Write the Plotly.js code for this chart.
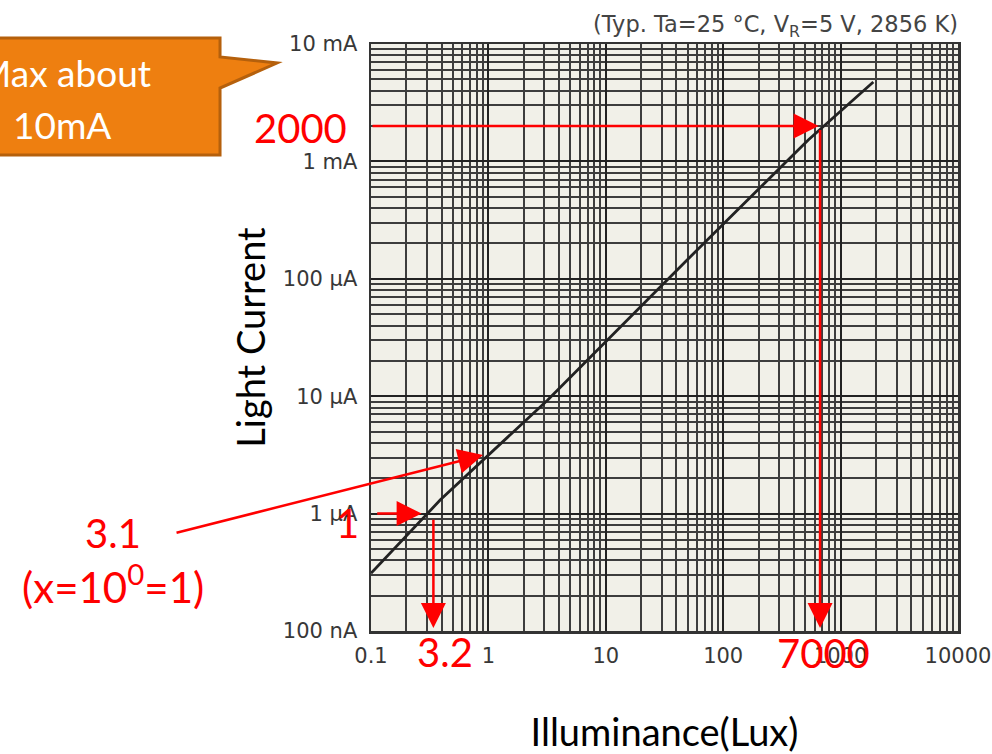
<!DOCTYPE html>
<html>
<head>
<meta charset="utf-8">
<script src="https://cdn.plot.ly/plotly-3.0.1.min.js"></script>
<style>html,body{margin:0;padding:0;background:#fff;}#chart{width:992px;height:754px;}</style>
</head>
<body>
<div id="chart"></div>
<script>
// ---- data ----
const illuminanceLux = [0.1, 0.39, 3.2, 49, 530, 1900];
const lightCurrentA  = [0.31e-6, 1.31e-6, 9.3e-6, 144e-6, 1.52e-3, 4.74e-3];

const xTickVals = [0.1, 1, 10, 100, 1000, 10000];
const xTickText = ['0.1', '1', '10', '100', '1000', '10000'];
const yTickVals = [1e-7, 1e-6, 1e-5, 1e-4, 1e-3, 1e-2];
const yTickText = ['100 nA', '1 µA', '10 µA', '100 µA', '1 mA', '10 mA'];

const chartNote = '(Typ. Ta=25 °C, V<sub>R</sub>=5 V, 2856 K)';
const xTitle = 'Illuminance(Lux)';
const yTitle = 'Light Current';

// annotation readings (lux, ampere)
const readHigh = {lux: 650, current: 2e-3, label: '2000', xLabel: '7000'};
const readLow  = {lux: 0.34, luxArrow: 0.27, current: 1e-6, label: '1', xLabel: '3.2'};
const readMid  = {lux: 0.9, current: 3.15e-6, label: '3.1', note: '(x=10<sup>0</sup>=1)'};
const calloutLines = ['Max about', '10mA'];

// minor grid values (2..9 in each decade)
function minorVals(lo, hi) {
  const v = [];
  for (let e = lo; e < hi; e++) for (let k = 2; k <= 9; k++) v.push(k * Math.pow(10, e));
  return v;
}
const L = Math.log10;
const red = '#FF0000';
const gridMajor = '#222222', gridMinor = '#3d3d3d';
const tickFont = {family: 'DejaVu Sans', size: 21, color: '#383838'};
const titleFont = {family: 'Lato', size: 38, color: '#000'};

const trace = {
  x: illuminanceLux, y: lightCurrentA, type: 'scatter', mode: 'lines',
  line: {color: '#222', width: 2.8}, hoverinfo: 'skip', showlegend: false
};

function arrow(x, y, ax, ay, extra) {
  return Object.assign({
    x: x, y: y, ax: ax, ay: ay, xref: 'x', yref: 'y', axref: 'x', ayref: 'y',
    text: '', showarrow: true, arrowhead: 2, arrowsize: 2.0, arrowwidth: 2.5,
    arrowcolor: red, standoff: 0, startstandoff: 0
  }, extra || {});
}
function label(text, px, py, size, color, extra) {
  return Object.assign({
    text: text, xref: 'paper', yref: 'paper', x: (px - 371) / 587, y: (631 - py) / 587,
    xanchor: 'center', yanchor: 'middle', showarrow: false,
    font: {family: 'Lato', size: size, color: color}
  }, extra || {});
}

const annotations = [
  // 2000 / 7000 reading
  arrow(L(readHigh.lux), L(readHigh.current), -1, L(readHigh.current)),
  arrow(L(readHigh.lux) + 0.012, -6.975, L(readHigh.lux) + 0.012, L(readHigh.current) - 0.02),
  // 1 / 3.2 reading
  arrow(L(readLow.luxArrow), L(readLow.current), -0.96, L(readLow.current)),
  arrow(L(readLow.lux), -6.975, L(readLow.lux), L(readLow.current) - 0.04),
  // 3.1 pointer
  {x: L(readMid.lux), y: L(readMid.current), xref: 'x', yref: 'y', ax: -308, ay: 78,
   text: '', showarrow: true, arrowhead: 2, arrowsize: 2.0, arrowwidth: 2.5, arrowcolor: red, standoff: 0},
  label(readHigh.label, 300, 128, 40, red),
  label(readHigh.xLabel, 823, 653, 40, red),
  label(readLow.xLabel, 445, 652, 40, red),
  label(readLow.label, 347, 523, 40, red),
  label(readMid.label, 113, 533, 40, red),
  label(readMid.note, 113, 584, 42, red),
  label(calloutLines[0], 153, 72, 37, '#ffffff', {xanchor: 'right'}),
  label(calloutLines[1], 62, 124, 37, '#ffffff')
];

function px(xp) { return ((xp - 371) / 587).toFixed(4); }
function py(yp) { return ((631 - yp) / 587).toFixed(4); }
const calloutPath = 'M ' + px(-40) + ',' + py(38) + ' L ' + px(220) + ',' + py(38) +
  ' L ' + px(220) + ',' + py(57) + ' L ' + px(277) + ',' + py(63) +
  ' L ' + px(220) + ',' + py(88) + ' L ' + px(220) + ',' + py(155) +
  ' L ' + px(-40) + ',' + py(155) + ' Z';

const layout = {
  width: 992, height: 754,
  margin: {l: 371, r: 34, t: 44, b: 123, pad: 0},
  paper_bgcolor: '#ffffff', plot_bgcolor: '#F1F0E8',
  showlegend: false,
  title: {text: chartNote, x: 1, xref: 'paper', xanchor: 'right', y: 1 - 24 / 754, yref: 'container', yanchor: 'middle',
          font: {family: 'DejaVu Sans', size: 22.5, color: '#444'}},
  xaxis: {
    type: 'log', range: [-1, 4], tickmode: 'array', tickvals: xTickVals, ticktext: xTickText,
    showgrid: true, gridcolor: gridMajor, gridwidth: 2, zeroline: false,
    minor: {tickmode: 'array', tickvals: minorVals(-1, 4), showgrid: true, gridcolor: gridMinor, gridwidth: 2, ticks: ''},
    showline: true, linecolor: '#333', linewidth: 2.5, mirror: true, ticks: '',
    tickfont: tickFont, ticklabelstandoff: 4,
    title: {text: xTitle, font: titleFont, standoff: 57}, automargin: false
  },
  yaxis: {
    type: 'log', range: [-7, -2], tickmode: 'array', tickvals: yTickVals, ticktext: yTickText,
    showgrid: true, gridcolor: gridMajor, gridwidth: 2, zeroline: false,
    minor: {tickmode: 'array', tickvals: minorVals(-7, -2), showgrid: true, gridcolor: gridMinor, gridwidth: 2, ticks: ''},
    showline: true, linecolor: '#333', linewidth: 2.5, mirror: true, ticks: '',
    tickfont: tickFont, ticklabelstandoff: 7,
    title: {text: yTitle, font: titleFont, standoff: 6}, automargin: false
  },
  shapes: [{
    type: 'path', xref: 'paper', yref: 'paper', path: calloutPath,
    fillcolor: '#EE7F10', line: {color: '#B5600C', width: 3}, layer: 'above'
  }],
  annotations: annotations
};

Plotly.newPlot('chart', [trace], layout, {staticPlot: true, displayModeBar: false});
</script>
</body>
</html>
